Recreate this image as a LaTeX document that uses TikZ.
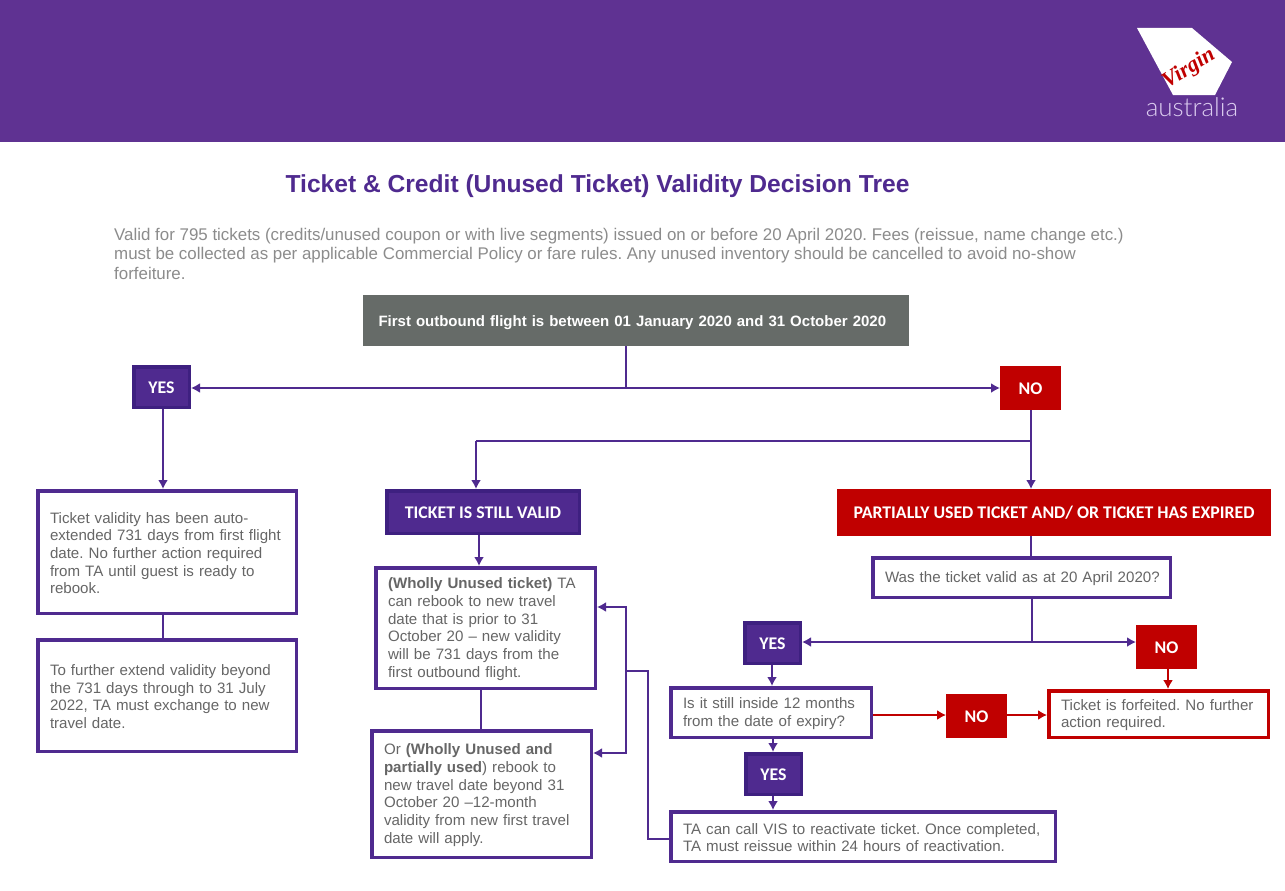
\documentclass[tikz,border=0pt]{standalone}
\usepackage{fontspec}
\setmainfont{Liberation Sans}
\newfontfamily\labelfont{Carlito}
\newfontfamily\logofont{Lato Light}
\newfontfamily\scriptlogo{Liberation Serif}
\usetikzlibrary{arrows.meta}
\definecolor{vpurple}{HTML}{4F2A8F}
\definecolor{vdark}{HTML}{3E2080}
\definecolor{vhead}{HTML}{5F3292}
\definecolor{vred}{HTML}{C00000}
\definecolor{vgrey}{HTML}{666B68}
\definecolor{vtext}{HTML}{666666}
\definecolor{vpara}{HTML}{8C8C8C}
\definecolor{vlav}{HTML}{DCCDF0}
\newcommand{\capstrut}{\rule{0pt}{13pt}}
\newcommand{\bodystrut}{\rule{0pt}{13pt}}
\newcommand{\greystrut}{\rule{0pt}{15pt}}
\tikzset{
  x=1pt,y=-1pt,
  boxbase/.style={rectangle,line width=3.5pt,inner ysep=0pt,inner xsep=12pt,align=left,
     font=\frenchspacing\fontsize{15.1}{17.7}\selectfont,text=vtext},
  textbox/.style={boxbase,draw=vpurple,fill=white,execute at begin node={\bodystrut}},
  redbox/.style={boxbase,draw=vred,fill=white,execute at begin node={\bodystrut}},
  yesbox/.style={boxbase,draw=vdark,fill=vpurple,text=white,align=center,inner xsep=0pt,
     font=\labelfont\bfseries\fontsize{17.8}{19}\selectfont,execute at begin node={\capstrut}},
  nobox/.style={boxbase,draw=vred,fill=vred,text=white,align=center,inner xsep=0pt,
     font=\labelfont\bfseries\fontsize{17.8}{19}\selectfont,execute at begin node={\capstrut}},
  greybox/.style={boxbase,draw=vgrey,fill=vgrey,text=white,inner xsep=13pt,
     font=\frenchspacing\bfseries\fontsize{15}{17}\selectfont,execute at begin node={\greystrut}},
  link/.style={draw=vpurple,line width=2pt},
  arr/.style={link,-{Latex[length=9pt,width=10pt]}},
  biarr/.style={draw=vpurple,line width=1.8pt,{Latex[length=9pt,width=10pt]}-{Latex[length=9pt,width=10pt]}},
  redarr/.style={draw=vred,line width=1.6pt,-{Latex[length=9pt,width=10pt]}},
}
\newcommand{\bx}[7]{%
  \pgfmathsetmacro{\bxw}{#5-#3-3.5}%
  \pgfmathsetmacro{\bxh}{#6-#4-3.5}%
  \pgfmathsetmacro{\bxcx}{(#3+#5)/2}%
  \pgfmathsetmacro{\bxcy}{(#4+#6)/2}%
  \node[#2,minimum width=\bxw pt,minimum height=\bxh pt] (#1) at (\bxcx,\bxcy) {#7};%
}
\begin{document}
\begin{tikzpicture}
\useasboundingbox (0,0) rectangle (1285,891);
\fill[white] (0,0) rectangle (1285,891);
\fill[vhead] (0,0) rectangle (1285,142);
% logo
\fill[white] (1137,28) -- (1192,28) -- (1232,62) -- (1215,95) -- (1173,95) -- cycle;
\node[rotate=32,text=vred,font=\scriptlogo\itshape\bfseries\fontsize{22}{22}\selectfont,inner sep=0pt] (virgin) at (1189,69) {Virgin};
\node[text=vlav,font=\logofont\fontsize{26}{26}\selectfont,inner sep=0pt] (australia) at (1192,107) {australia};
% title and introduction
\node[text=vpurple,font=\bfseries\fontsize{24.6}{28}\selectfont,inner sep=0pt] (title) at (597.5,186) {Ticket \& Credit (Unused Ticket) Validity Decision Tree};
\node[anchor=north west,text=vpara,align=left,inner sep=0pt,font=\frenchspacing\fontsize{16.9}{19.5}\selectfont] (intro) at (114,228)
 {Valid for 795 tickets (credits/unused coupon or with live segments) issued on or before 20 April 2020. Fees (reissue, name change etc.)\\
  must be collected as per applicable Commercial Policy or fare rules. Any unused inventory should be cancelled to avoid no-show\\
  forfeiture.};
% boxes
\bx{top}{greybox,text width=515pt}{363}{295}{909}{346}{First outbound flight is between 01 January 2020 and 31 October 2020}
\bx{yesa}{yesbox}{132}{365}{191}{409}{YES}
\bx{noa}{nobox}{1000}{366}{1061}{410}{NO}
\bx{auto}{textbox,text width=234pt}{36}{489}{298}{615}{Ticket validity has been auto-\\extended 731 days from first flight\\date. No further action required\\from TA until guest is ready to\\rebook.}
\bx{extend}{textbox,text width=234pt}{36}{638}{298}{753}{To further extend validity beyond\\the 731 days through to 31 July\\2022, TA must exchange to new\\travel date.}
\bx{valid}{yesbox}{385}{489}{581}{535}{TICKET IS STILL VALID}
\bx{unused}{textbox,text width=195pt}{374}{566}{597}{690}{\textbf{(Wholly Unused ticket)} TA\\can rebook to new travel\\date that is prior to 31\\October 20 -- new validity\\will be 731 days from the\\first outbound flight.}
\bx{partial}{textbox,text width=195pt}{370}{729}{593}{859}{Or \textbf{(Wholly Unused and}\\\textbf{partially used}) rebook to\\new travel date beyond 31\\October 20 --12-month\\validity from new first travel\\date will apply.}
\bx{expired}{nobox}{837}{489}{1271}{536}{PARTIALLY USED TICKET AND/ OR TICKET HAS EXPIRED}
\bx{asat}{textbox,text width=273pt}{871}{556}{1172}{599}{\mbox{Was the ticket valid as at 20 April 2020?}}
\bx{yesb}{yesbox}{743}{621}{802}{665}{YES}
\bx{nob}{nobox}{1136}{625}{1197}{669}{NO}
\bx{inside}{textbox,text width=176pt}{669}{686}{873}{739}{Is it still inside 12 months\\from the date of expiry?}
\bx{noc}{nobox}{946}{694}{1007}{738}{NO}
\bx{forfeit}{redbox,text width=195pt}{1047}{689}{1270}{739}{Ticket is forfeited. No further\\action required.}
\bx{yesc}{yesbox}{744}{752}{803}{796}{YES}
\bx{react}{textbox,text width=360pt}{669}{810}{1057}{863}{TA can call VIS to reactivate ticket. Once completed,\\TA must reissue within 24 hours of reactivation.}
% junctions
\coordinate (j1) at (626,388);
\coordinate (j2) at (1031,441);
\coordinate (j3) at (476,441);
\coordinate (j4) at (1032,642);
\coordinate (t1) at (626,607);
\coordinate (t2) at (626,753);
\coordinate (t3) at (626,671);
\coordinate (t4) at (648,671);
\coordinate (t5) at (648,839);
\coordinate (x1) at (163,500);
\coordinate (x2) at (479,500);
\coordinate (x3) at (481,700);
\coordinate (x4) at (772,700);
\coordinate (x5) at (773,700);
\coordinate (x6) at (1168,700);
\coordinate (x7) at (910,715);
% connectors
\draw[link] (top.south -| j1) -- (j1);
\draw[biarr] (yesa.east |- j1) -- (noa.west |- j1);
\draw[arr] (noa.south -| j2) -- (expired.north -| j2);
\draw[link] (j2) -- (j3);
\draw[arr] (j3) -- (valid.north -| j3);
\draw[arr] (yesa.south -| x1) -- (auto.north -| x1);
\draw[link] (auto.south -| x1) -- (extend.north -| x1);
\draw[arr] (valid.south -| x2) -- (unused.north -| x2);
\draw[link] (unused.south -| x3) -- (partial.north -| x3);
\draw[link] (expired.south -| j2) -- (asat.north -| j2);
\draw[link] (asat.south -| j4) -- (j4);
\draw[biarr] (yesb.east |- j4) -- (nob.west |- j4);
\draw[arr] (yesb.south -| x4) -- (inside.north -| x4);
\draw[arr] (inside.south -| x5) -- (yesc.north -| x5);
\draw[arr] (yesc.south -| x5) -- (react.north -| x5);
\draw[redarr] (inside.east |- x7) -- (noc.west |- x7);
\draw[redarr] (noc.east |- x7) -- (forfeit.west |- x7);
\draw[redarr] (nob.south -| x6) -- (forfeit.north -| x6);
\draw[link] (react.west |- t5) -- (t5) -- (t4) -- (t3);
\draw[arr] (t3) -- (t1) -- (unused.east |- t1);
\draw[arr] (t3) -- (t2) -- (partial.east |- t2);
\end{tikzpicture}
\end{document}
